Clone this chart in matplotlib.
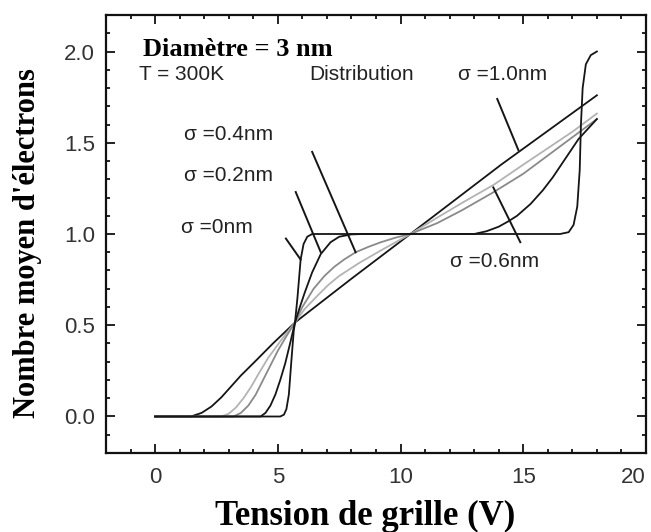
import matplotlib
matplotlib.use("Agg")
import matplotlib.pyplot as plt
from matplotlib.ticker import MultipleLocator

# courbes : <N> en fonction de Vg pour chaque sigma
x_s00 = [0, 5.1, 5.25, 5.35, 5.45, 5.55, 5.65, 5.7, 5.8, 5.93, 6.05, 6.2, 6.4, 16.5,
         16.85, 17.05, 17.2, 17.3, 17.35, 17.42, 17.55, 17.75, 18.0]
y_s00 = [0, 0, 0.01, 0.04, 0.12, 0.3, 0.47, 0.515, 0.65, 0.86, 0.945, 0.985, 1.0, 1.0,
         1.01, 1.05, 1.15, 1.35, 1.6, 1.8, 1.93, 1.98, 2.0]

x_s02 = [0, 4.3, 4.5, 4.7, 4.9, 5.1, 5.3, 5.5, 5.7, 5.9, 6.1, 6.4, 6.75, 7.15, 7.5,
         8.0, 8.5, 13.0, 13.5, 14.0, 14.4, 14.75, 15.3, 15.8, 16.2, 16.6, 16.95,
         17.25, 18.0]
y_s02 = [0, 0, 0.02, 0.06, 0.12, 0.2, 0.29, 0.4, 0.515, 0.6, 0.68, 0.79, 0.89, 0.955,
         0.985, 0.998, 1.0, 1.0, 1.015, 1.04, 1.07, 1.1, 1.165, 1.24, 1.31, 1.39, 1.46,
         1.52, 1.63]

x_s04 = [0, 3.2, 3.5, 3.8, 4.1, 4.4, 4.7, 5.0, 5.35, 5.7, 6.0, 6.46, 6.9, 7.3, 7.7,
         8.17, 8.7, 9.2, 9.8, 10.4, 11.5, 12.5, 13.8, 15.0, 16.0, 17.0, 18.0]
y_s04 = [0, 0, 0.02, 0.06, 0.12, 0.2, 0.28, 0.36, 0.44, 0.515, 0.6, 0.7, 0.77, 0.82,
         0.86, 0.9, 0.93, 0.955, 0.98, 1.0, 1.06, 1.13, 1.23, 1.33, 1.43, 1.53, 1.63]

x_s06 = [0, 2.7, 3.0, 3.3, 3.6, 3.9, 4.2, 4.6, 5.2, 5.7, 6.1, 6.6, 7.05, 7.5, 8.3,
         9.2, 9.8, 10.4, 11.5, 12.5, 13.8, 15.0, 16.0, 17.0, 18.0]
y_s06 = [0, 0, 0.015, 0.05, 0.1, 0.16, 0.23, 0.32, 0.43, 0.515, 0.59, 0.66, 0.72, 0.77,
         0.84, 0.91, 0.955, 1.0, 1.09, 1.17, 1.27, 1.38, 1.47, 1.56, 1.66]

x_s10 = [0, 1.46, 1.9, 2.3, 2.7, 3.1, 3.5, 4.1, 4.8, 5.7, 8.0, 10.4, 14.1, 18.0]
y_s10 = [0, 0, 0.02, 0.055, 0.105, 0.165, 0.225, 0.305, 0.4, 0.515, 0.755, 1.0, 1.38, 1.76]

# étiquettes et traits de repère
labels = ["σ =0nm", "σ =0.2nm", "σ =0.4nm", "σ =0.6nm", "σ =1.0nm"]
label_x = [1.06, 1.18, 1.18, 12.0, 12.36]
label_y = [1.035, 1.32, 1.545, 0.85, 1.875]
ptr_x = [(5.33, 5.93), (5.73, 6.75), (6.4, 8.17), (13.78, 14.88), (13.94, 14.8)]
ptr_y = [(0.975, 0.86), (1.23, 0.90), (1.45, 0.90), (1.255, 0.955), (1.74, 1.46)]

plt.rcParams["font.family"] = ["Liberation Sans", "DejaVu Sans"]

fig = plt.figure(figsize=(6.51, 5.32), dpi=100)
ax = fig.add_axes([0.1628, 0.1485, 0.8295, 0.8233])

noir = "#151515"
ax.plot(x_s10, y_s10, color=noir, lw=1.3)
ax.plot(x_s06, y_s06, color="#b3b3b3", lw=1.3)
ax.plot(x_s04, y_s04, color="#8a8a8a", lw=1.3)
ax.plot(x_s02, y_s02, color=noir, lw=1.3)
ax.plot(x_s00, y_s00, color=noir, lw=1.3)

for lab, lx, ly, px, py in zip(labels, label_x, label_y, ptr_x, ptr_y):
    ax.text(lx, ly, lab, fontsize=15, va="center", ha="left", color="#222222")
    ax.plot(px, py, color=noir, lw=1.4)

ax.text(-0.65, 1.875, "T = 300K", fontsize=15, va="center", color="#222222")
ax.text(6.3, 1.875, "Distribution", fontsize=15, va="center", color="#222222")
ax.text(-0.49, 2.01, "Diamètre = 3 nm", fontsize=19, va="center", fontweight="bold",
        family="Liberation Serif", color="black")

ax.set_xlim(-2, 20)
ax.set_ylim(-0.2, 2.2)
ax.xaxis.set_major_locator(MultipleLocator(5))
ax.xaxis.set_minor_locator(MultipleLocator(1))
ax.yaxis.set_major_locator(MultipleLocator(0.5))
ax.yaxis.set_minor_locator(MultipleLocator(0.1))
ax.yaxis.set_major_formatter(plt.FuncFormatter(lambda v, p: f"{v:.1f}"))
ax.tick_params(which="both", direction="in", top=True, right=True, width=1.3,
               colors="#111111", labelcolor="#333333", labelsize=16)
ax.tick_params(which="major", length=6.5)
ax.tick_params(which="minor", length=3)
ax.tick_params(axis="y", pad=8)
ax.tick_params(axis="x", pad=10)
for s in ax.spines.values():
    s.set_linewidth(1.6)
    s.set_color("#111111")

ax.set_xlabel("Tension de grille (V)", fontsize=25, fontweight="bold",
              family="Liberation Serif")
ax.set_ylabel("Nombre moyen d'électrons", fontsize=22, fontweight="bold",
              family="Liberation Serif")
ax.xaxis.set_label_coords(0.48, -0.146)
ax.xaxis.label.set_va("center")
ax.yaxis.set_label_coords(-0.146, 0.479)
ax.yaxis.label.set_va("center")

# le « 20 » est décalé vers la gauche dans l'original
fig.canvas.draw()
for t in ax.xaxis.get_major_ticks():
    if abs(t.get_loc() - 20) < 1e-6:
        t.label1.set_horizontalalignment("right")

fig.savefig("out.png", dpi=100)
